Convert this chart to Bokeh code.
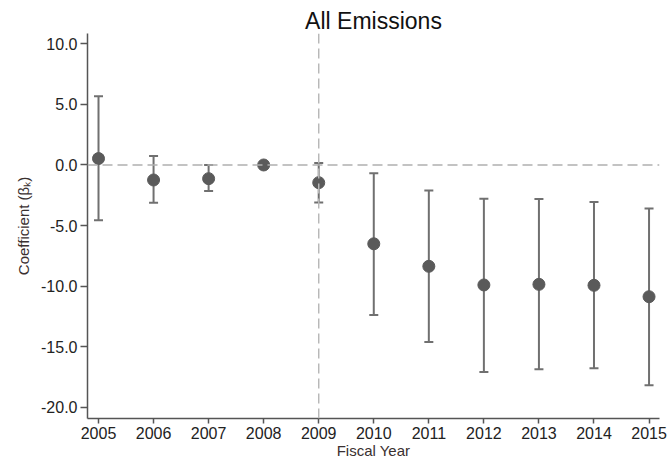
from bokeh.plotting import figure
from bokeh.models import ColumnDataSource, Span, Whisker, FixedTicker, Range1d, TeeHead
from bokeh.embed import file_html
from bokeh.resources import INLINE

# Event-study coefficients and 95% confidence bounds by fiscal year
years = [2005, 2006, 2007, 2008, 2009, 2010, 2011, 2012, 2013, 2014, 2015]
coef = [0.53, -1.24, -1.13, 0.0, -1.46, -6.51, -8.37, -9.91, -9.86, -9.94, -10.88]
upper = [5.67, 0.75, 0.0, 0.0, 0.17, -0.69, -2.10, -2.78, -2.81, -3.06, -3.59]
lower = [-4.56, -3.12, -2.15, 0.0, -3.09, -12.39, -14.63, -17.09, -16.87, -16.79, -18.19]
y_ticks = [-20, -15, -10, -5, 0, 5, 10]
y_tick_labels = {t: f"{t:.1f}" for t in y_ticks}

# Year 2008 is the omitted reference period, so it has no interval
ci_years = [y for y, u, l in zip(years, upper, lower) if u != l]
ci_up = [u for u, l in zip(upper, lower) if u != l]
ci_lo = [l for u, l in zip(upper, lower) if u != l]

FONT = "Liberation Sans"
BAR = "#707070"

p = figure(
    width=670, height=467,
    output_backend="svg", toolbar_location=None,
    x_range=Range1d(2004.8, 2015.19), y_range=Range1d(-20.94, 10.86),
    min_border_left=87, min_border_right=11, min_border_top=33, min_border_bottom=49,
    title="All Emissions",
)
p.outline_line_color = None
p.grid.visible = False
p.background_fill_color = "white"
p.border_fill_color = "white"

p.title.text_font = FONT
p.title.text_font_size = "23px"
p.title.text_font_style = "normal"
p.title.text_color = "#111111"
p.title.align = "center"
p.title.offset = 28
p.title.standoff = 0

# Reference lines at zero effect and at the policy year
p.add_layout(Span(location=0, dimension="width", line_color="#b0b0b0",
                  line_width=1.5, line_dash="10 5"))
p.add_layout(Span(location=2009, dimension="height", line_color="#b8b8b8",
                  line_width=1.5, line_dash="10 5"))

ci_src = ColumnDataSource(dict(x=ci_years, upper=ci_up, lower=ci_lo))
p.add_layout(Whisker(source=ci_src, base="x", upper="upper", lower="lower",
                     line_color=BAR, line_width=2,
                     upper_head=TeeHead(size=9, line_color=BAR, line_width=2),
                     lower_head=TeeHead(size=9, line_color=BAR, line_width=2)))

pt_src = ColumnDataSource(dict(x=years, y=coef))
p.scatter("x", "y", source=pt_src, size=12, fill_color="#5a5a5a", line_color="#5a5a5a")

# Axes
for ax in (p.xaxis[0], p.yaxis[0]):
    ax.axis_line_color = "#555555"
    ax.axis_line_width = 1.5
    ax.major_tick_line_color = "#555555"
    ax.major_tick_line_width = 1.5
    ax.minor_tick_line_color = None
    ax.major_tick_in = 0
    ax.major_label_text_font = FONT
    ax.major_label_text_font_size = "16px"
    ax.major_label_text_color = "#222222"
    ax.axis_label_text_font = FONT
    ax.axis_label_text_font_style = "normal"
    ax.axis_label_text_color = "#3a3030"

p.xaxis.ticker = FixedTicker(ticks=years)
p.xaxis.major_tick_out = 5
p.xaxis.major_label_standoff = 3
p.xaxis.axis_label = "Fiscal Year"
p.xaxis.axis_label_text_font_size = "15px"
p.xaxis.axis_label_standoff = 0

p.yaxis.ticker = FixedTicker(ticks=y_ticks)
p.yaxis.major_label_overrides = y_tick_labels
p.yaxis.major_tick_out = 7
p.yaxis.major_label_standoff = 3
p.yaxis.axis_label = "Coefficient (βₖ)"
p.yaxis.axis_label_text_font_size = "15px"
p.yaxis.axis_label_standoff = 6

open("out.html", "w").write(file_html(p, INLINE))
